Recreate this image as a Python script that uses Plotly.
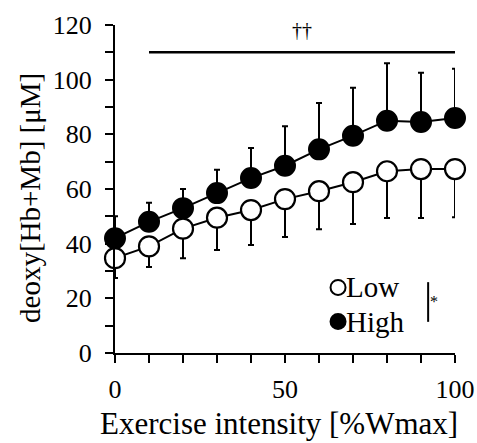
import plotly.graph_objects as go

# ---- data ----
intensity = [0, 10, 20, 30, 40, 50, 60, 70, 80, 90, 100]
high_mean = [42, 48, 53, 58.5, 64, 68.5, 74.5, 79.5, 85, 84.5, 86]
high_sd = [8, 7, 7, 8.5, 11, 14.5, 17, 17.5, 21, 18, 18]
low_mean = [34.7, 39, 45.5, 49.5, 52.3, 56.3, 59.2, 62.5, 66.5, 67.3, 67.3]
low_sd = [7.3, 7.5, 10.8, 11.8, 12.8, 13.9, 13.9, 15.3, 17.1, 17.9, 17.6]
series_names = ["Low", "High"]
x_tick_vals = [0, 10, 20, 30, 40, 50, 60, 70, 80, 90, 100]
x_tick_text = ["0", "", "", "", "", "50", "", "", "", "", "100"]
y_tick_vals = [0, 10, 20, 30, 40, 50, 60, 70, 80, 90, 100, 110, 120]
y_tick_text = ["0", "", "20", "", "40", "", "60", "", "80", "", "100", "", "120"]
sig_span = [10, 100]
sig_level = 110
x_title = "Exercise intensity [%Wmax]"
y_title = "deoxy[Hb+Mb] [μM]"

FONT = "Liberation Serif"

fig = go.Figure()

fig.add_trace(go.Scatter(
    x=intensity, y=low_mean, mode="lines+markers", name=series_names[0], showlegend=False,
    line=dict(color="black", width=2),
    marker=dict(size=20, color="white", line=dict(color="black", width=2.2)),
    error_y=dict(type="data", symmetric=False, array=[0] * len(low_sd),
                 arrayminus=low_sd, color="black", thickness=2, width=3),
    cliponaxis=False,
))
fig.add_trace(go.Scatter(
    x=intensity, y=high_mean, mode="lines+markers", name=series_names[1], showlegend=False,
    line=dict(color="black", width=2),
    marker=dict(size=20, color="black", line=dict(color="black", width=2)),
    error_y=dict(type="data", symmetric=False, array=high_sd,
                 arrayminus=[0] * len(high_sd), color="black", thickness=2, width=3),
    cliponaxis=False,
))

# ---- manual legend (decoration, paper coordinates) ----
leg_x = 0.656
leg_rows = [(0.200, "white", series_names[0]), (0.096, "black", series_names[1])]
for yy, fill, label in leg_rows:
    fig.add_shape(type="circle", xref="paper", yref="paper",
                  xsizemode="pixel", ysizemode="pixel", xanchor=leg_x, yanchor=yy,
                  x0=-7.5, x1=7.5, y0=-7.5, y1=7.5,
                  fillcolor=fill, line=dict(color="black", width=2))
    fig.add_annotation(xref="paper", yref="paper", x=leg_x, xshift=6, y=yy,
                       xanchor="left", yanchor="middle", text=label, showarrow=False,
                       font=dict(family=FONT, size=29, color="black"))

# bracket for group effect
fig.add_shape(type="line", xref="paper", yref="paper", x0=0.921, x1=0.921,
              y0=0.095, y1=0.216, line=dict(color="black", width=2))
fig.add_annotation(xref="paper", yref="paper", x=0.956, y=0.125, text="*",
                   showarrow=False, font=dict(family=FONT, size=16, color="black"))

# significance line
fig.add_shape(type="line", xref="x", yref="y", x0=sig_span[0], x1=sig_span[1],
              y0=sig_level, y1=sig_level, line=dict(color="black", width=2.5))
fig.add_annotation(x=(sig_span[0] + sig_span[1]) / 2, y=sig_level, yshift=22, text="††",
                   showarrow=False, font=dict(family=FONT, size=20, color="black"))

# axis titles
fig.add_annotation(xref="paper", yref="paper", x=0.482, y=-0.274, xanchor="center",
                   yanchor="bottom", text=x_title, showarrow=False,
                   font=dict(family=FONT, size=31, color="black"))
fig.add_annotation(xref="paper", yref="paper", x=-0.25, y=0.4726, xanchor="center",
                   yanchor="middle", text=y_title, textangle=-90, showarrow=False,
                   font=dict(family=FONT, size=29, color="black"))

fig.update_layout(
    width=477, height=443,
    margin=dict(l=115, r=22, t=25, b=90, autoexpand=False),
    paper_bgcolor="white", plot_bgcolor="white",
    font=dict(family=FONT, size=26, color="black"),
    showlegend=False,
    xaxis=dict(range=[0, 100], showline=True, linecolor="black", linewidth=2,
               ticks="outside", ticklen=8, tickwidth=2, tickcolor="black",
               tickvals=x_tick_vals, ticktext=x_tick_text, showgrid=False,
               zeroline=False, automargin=False, ticklabelstandoff=4,
               tickfont=dict(family=FONT, size=26, color="black")),
    yaxis=dict(range=[0, 120], showline=True, linecolor="black", linewidth=2,
               ticks="outside", ticklen=8, tickwidth=2, tickcolor="black",
               tickvals=y_tick_vals, ticktext=y_tick_text, showgrid=False,
               zeroline=False, automargin=False, ticklabelstandoff=8,
               tickfont=dict(family=FONT, size=26, color="black")),
)

fig.write_html("out.html")
